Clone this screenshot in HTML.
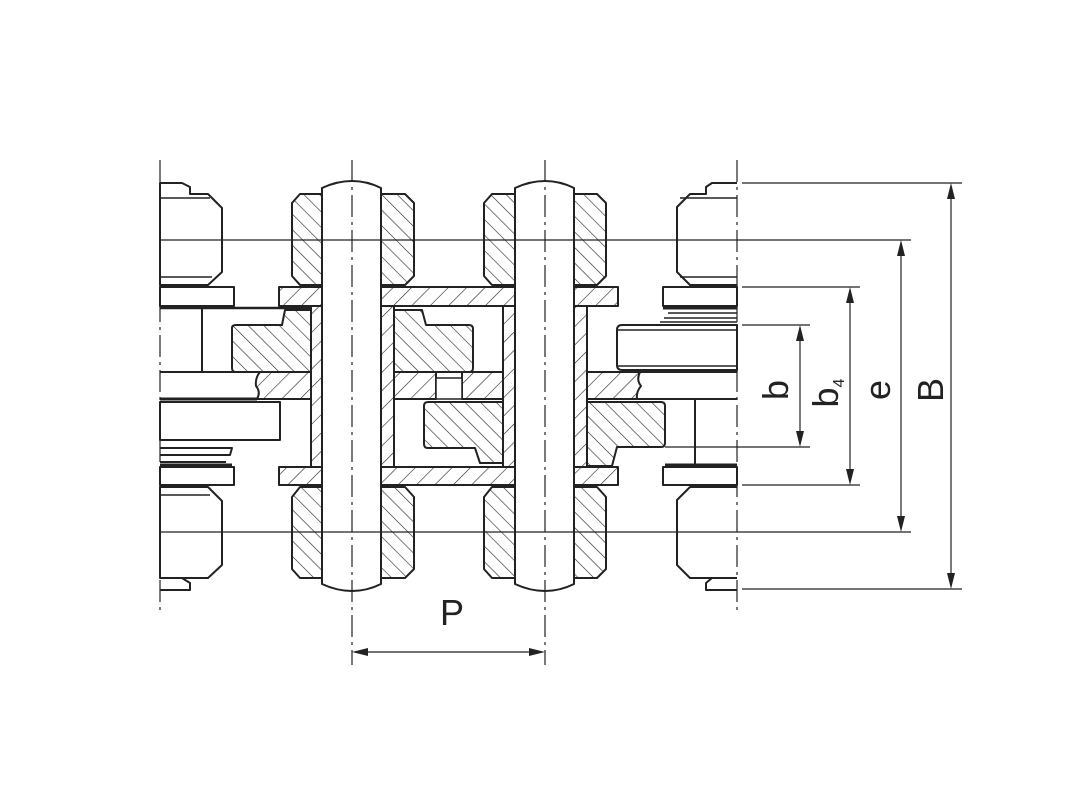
<!DOCTYPE html>
<html><head><meta charset="utf-8"><style>html,body{margin:0;padding:0;background:#fff}svg{display:block}</style></head><body>
<svg width="1080" height="810" viewBox="0 0 1080 810" xmlns="http://www.w3.org/2000/svg">
<defs>
<pattern id="hb" patternUnits="userSpaceOnUse" width="11" height="11" patternTransform="rotate(-45)"><line x1="0" y1="0" x2="0" y2="11" stroke="#222" stroke-width="1.2"/></pattern>
<pattern id="hf" patternUnits="userSpaceOnUse" width="13" height="13" patternTransform="rotate(45)"><line x1="0" y1="0" x2="0" y2="13" stroke="#222" stroke-width="1.2"/></pattern>
</defs>
<g fill="none" stroke="#222" stroke-width="1.2">
<!-- dimension extension lines -->
<line x1="742" y1="183" x2="962" y2="183"/>
<line x1="742" y1="589" x2="962" y2="589"/>
<line x1="742" y1="287" x2="860" y2="287"/>
<line x1="742" y1="485" x2="860" y2="485"/>
<line x1="742" y1="325" x2="810" y2="325"/>
<line x1="665" y1="447" x2="810" y2="447"/>
<line x1="951" y1="190" x2="951" y2="582"/>
<line x1="901" y1="247" x2="901" y2="525"/>
<line x1="850" y1="294" x2="850" y2="478"/>
<line x1="800" y1="332" x2="800" y2="440"/>
<line x1="359" y1="652" x2="538" y2="652"/>
</g>
<g fill="#222">
<path d="M951 183 l-4 16 h8z M951 589 l-4 -16 h8z"/>
<path d="M901 240 l-4 16 h8z M901 532 l-4 -16 h8z"/>
<path d="M850 287 l-4 16 h8z M850 485 l-4 -16 h8z"/>
<path d="M800 325 l-4 16 h8z M800 447 l-4 -16 h8z"/>
<path d="M352 652 l16 -4 v8z M545 652 l-16 -4 v8z"/>
</g>
<g font-family="Liberation Sans, sans-serif" font-size="36" fill="#222">
<text x="452" y="625" text-anchor="middle">P</text>
<text transform="translate(788,390) rotate(-90)" text-anchor="middle">b</text>
<text transform="translate(838,393) rotate(-90)" text-anchor="middle">b<tspan font-size="16" dy="6" dx="0">4</tspan></text>
<text transform="translate(890,390) rotate(-90)" text-anchor="middle">e</text>
<text transform="translate(943,390) rotate(-90)" text-anchor="middle">B</text>
</g>
<g stroke="#222" stroke-width="2" stroke-linejoin="round">
<g fill="url(#hf)">
<rect x="279" y="287" width="43" height="19"/><rect x="381" y="287" width="134" height="19"/><rect x="574" y="287" width="44" height="19"/>
<rect x="279" y="467" width="43" height="18"/><rect x="381" y="467" width="134" height="18"/><rect x="574" y="467" width="44" height="18"/>
<rect x="311" y="306" width="11" height="161"/><rect x="381" y="306" width="13" height="161"/>
<rect x="503" y="306" width="12" height="161"/><rect x="574" y="306" width="13" height="161"/>
<path d="M260 372 H311 V399 H257 Q261 392 256 386 Q255 378 260 372Z"/>
<rect x="394" y="372" width="42" height="27"/><rect x="462" y="372" width="41" height="27"/>
<path d="M587 372 H640 Q636 380 641 386 Q636 392 637 399 H587Z"/>
</g>
<rect x="436" y="378" width="26" height="21" fill="#fff" stroke-width="1.5"/>
<g fill="url(#hb)">
<path d="M292 203 L300 194 H322 V285 H300 L292 276Z"/><path d="M381 194 H405 L414 203 V276 L405 285 H381Z"/>
<path d="M484 203 L492 194 H515 V285 H492 L484 276Z"/><path d="M574 194 H597 L606 203 V276 L597 285 H574Z"/>
<path d="M292 497 L300 487 H322 V578 H300 L292 569Z"/><path d="M381 487 H405 L414 497 V569 L405 578 H381Z"/>
<path d="M484 497 L492 487 H515 V578 H492 L484 569Z"/><path d="M574 487 H597 L606 497 V569 L597 578 H574Z"/>
<path d="M232 328 Q232 325 236 325 H282 L285 310 H311 V372 H236 Q232 372 232 368Z"/>
<path d="M394 310 H422 L426 325 H469 Q473 325 473 329 V368 Q473 372 469 372 H394Z"/>
<path d="M428 402 H503 V463 H480 L475 448 H428 Q424 448 424 444 V406 Q424 402 428 402Z"/>
<path d="M587 402 H661 Q665 402 665 406 V443 Q665 447 661 447 H617 L612 466 H587Z"/>
</g>
<path d="M322 188 Q337 181 352 181 Q367 181 381 188 V584 Q367 591 352 591 Q337 591 322 584Z" fill="#fff"/>
<path d="M515 188 Q530 181 545 181 Q560 181 574 188 V584 Q560 591 545 591 Q530 591 515 584Z" fill="#fff"/>
<g fill="#fff">
<path d="M160 183 H182 L190 187 V194 H208 L222 208 V272 L208 285 H160Z"/>
<line x1="160" y1="198" x2="210" y2="198" stroke-width="1.5"/><line x1="160" y1="277" x2="212" y2="277" stroke-width="1.5"/>
<rect x="160" y="287" width="74" height="19"/>
<rect x="160" y="467" width="74" height="18"/>
<path d="M160 578 H182 L190 583 V590 H160" />
<path d="M160 487 H208 L222 501 V565 L208 578 H160Z"/>
<line x1="160" y1="495" x2="210" y2="495" stroke-width="1.5"/>
<rect x="160" y="402" width="120" height="38"/>
</g>
<line x1="160" y1="308" x2="311" y2="308" stroke-width="2.5"/>
<line x1="202" y1="308" x2="202" y2="372"/>
<line x1="160" y1="372" x2="260" y2="372"/>
<line x1="160" y1="399" x2="257" y2="399" stroke-width="3"/>
<path d="M160 448 H232 L230 455 H160 M160 462 H226" fill="none"/>
<line x1="160" y1="465" x2="232" y2="465" stroke-width="3"/>
<g fill="#fff">
<path d="M737 183 H712 L706 187 V194 H690 L677 207 V272 L690 285 H737"/>
<line x1="680" y1="198" x2="737" y2="198" stroke-width="1.5"/><line x1="680" y1="277" x2="737" y2="277" stroke-width="1.5"/>
<rect x="663" y="287" width="74" height="19"/>
<rect x="663" y="467" width="74" height="18"/>
<path d="M737 487 H690 L677 500 V565 L690 578 H737"/>
<path d="M737 578 H712 L706 583 V590 H737"/>
<path d="M622 325 H737 V370 H622 Q617 370 617 365 V330 Q617 325 622 325Z"/>
</g>
<line x1="663" y1="308" x2="737" y2="308" stroke-width="3"/>
<path d="M668 313 H737 M664 318 H737 M660 322 H737" fill="none" stroke-width="1.5"/>
<line x1="617" y1="330" x2="737" y2="330" stroke-width="1.5"/>
<line x1="617" y1="366" x2="737" y2="366" stroke-width="1.5"/>
<line x1="640" y1="372" x2="737" y2="372"/>
<line x1="637" y1="399" x2="737" y2="399"/>
<line x1="695" y1="399" x2="695" y2="466"/>
<line x1="665" y1="465" x2="737" y2="465" stroke-width="3"/>
</g>
<g fill="none" stroke="#222" stroke-width="1.2">
<g stroke-dasharray="22,5,3,5">
<line x1="160" y1="160" x2="160" y2="610"/>
<line x1="352" y1="160" x2="352" y2="665"/>
<line x1="545" y1="160" x2="545" y2="665"/>
<line x1="737" y1="160" x2="737" y2="610"/>
</g>
<line x1="160" y1="240" x2="911" y2="240"/>
<line x1="160" y1="532" x2="911" y2="532"/>
</g>
</svg>
</body></html>
